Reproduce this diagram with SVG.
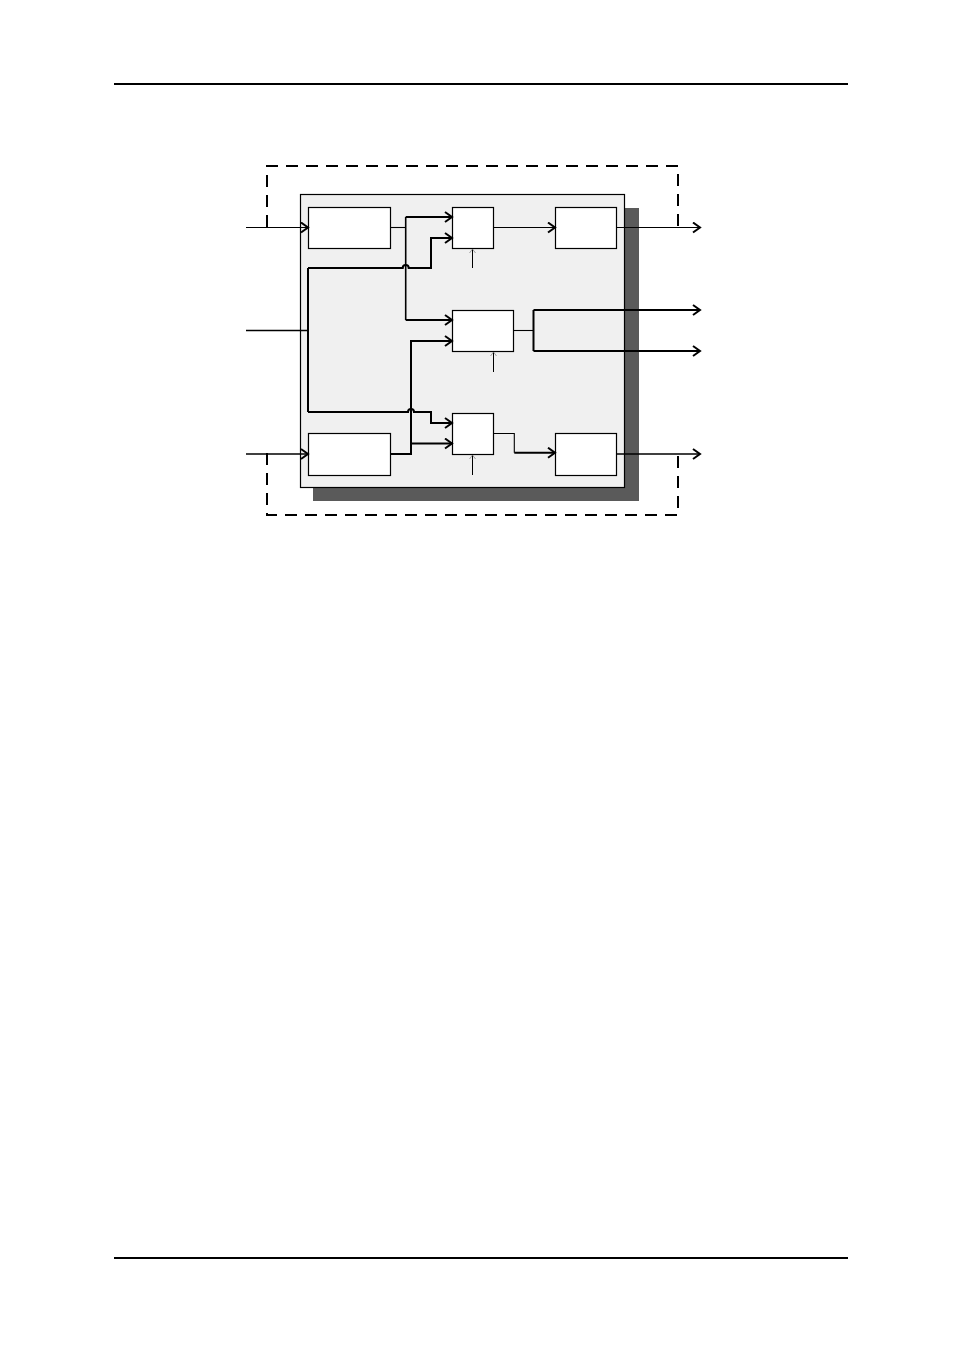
<svg xmlns="http://www.w3.org/2000/svg" width="954" height="1350" viewBox="0 0 954 1350">
<style>
.box{fill:#fff;stroke:#000;stroke-width:1.2}
.thin{fill:none;stroke:#000;stroke-width:1.1}
.med{fill:none;stroke:#000;stroke-width:1.6}
.thick{fill:none;stroke:#000;stroke-width:2}
.dash{fill:none;stroke:#000;stroke-width:2;stroke-dasharray:12 8}
.ctl{fill:none;stroke:#000;stroke-width:1}
</style>
<defs>
<marker id="arr" markerUnits="userSpaceOnUse" markerWidth="12" markerHeight="12" refX="8" refY="6" orient="auto">
<path d="M1,1 L8,6 L1,11" fill="none" stroke="#000" stroke-width="2"/>
</marker>
<marker id="sarr" markerUnits="userSpaceOnUse" markerWidth="8" markerHeight="8" refX="4" refY="4" orient="auto">
<path d="M0,1 L4,4 L0,7" fill="none" stroke="#888" stroke-width="0.8"/>
</marker>
</defs>
<rect width="954" height="1350" fill="#fff"/>
<line x1="114" y1="84" x2="848" y2="84" stroke="#000" stroke-width="2"/>
<line x1="114" y1="1258" x2="848" y2="1258" stroke="#000" stroke-width="2"/>

<g id="loop-top"><path class="dash" d="M267,227 V166 H678 V227"/></g>
<g id="loop-bottom"><path class="dash" d="M267,453 V515 H678 V453"/></g>

<g id="frame">
<rect x="313" y="208" width="326" height="293" fill="#5a5a5a"/>
<rect x="300.5" y="194.5" width="324" height="293" fill="#f0f0f0" stroke="#000" stroke-width="1.2"/>
</g>

<g id="node-a"><rect class="box" x="308.5" y="207.5" width="82" height="41"/></g>
<g id="node-b"><rect class="box" x="308.5" y="433.5" width="82" height="42"/></g>
<g id="node-c"><rect class="box" x="452.5" y="207.5" width="41" height="41"/></g>
<g id="node-d"><rect class="box" x="452.5" y="310.5" width="61" height="41"/></g>
<g id="node-e"><rect class="box" x="452.5" y="413.5" width="41" height="41"/></g>
<g id="node-f"><rect class="box" x="555.5" y="207.5" width="61" height="41"/></g>
<g id="node-g"><rect class="box" x="555.5" y="433.5" width="61" height="42"/></g>

<g id="connectors">
<path class="thin" d="M246,227.5 H308" marker-end="url(#arr)"/>
<path class="med" d="M246,330.5 H308"/>
<path class="med" d="M246,454 H308" marker-end="url(#arr)"/>

<path class="thick" d="M308,268 V412"/>
<path class="thick" d="M308,268 H402.7 A3,3 0 0 1 408.7,268 H431 V238 H452" marker-end="url(#arr)"/>
<path class="thick" d="M308,412 H408 A3,3 0 0 1 414,412 H431 V423 H452" marker-end="url(#arr)"/>

<path class="thin" d="M390.5,227.5 H405.7"/>
<path class="med" d="M405.7,217 V320"/>
<path class="thick" d="M405.7,217 H452" marker-end="url(#arr)"/>
<path class="thick" d="M405.7,320 H452" marker-end="url(#arr)"/>

<path class="thick" d="M390.5,454 H411 V341 H452" marker-end="url(#arr)"/>
<path class="thick" d="M411,443.5 H452" marker-end="url(#arr)"/>

<path class="thin" d="M493.5,227.5 H555" marker-end="url(#arr)"/>
<path class="thin" d="M616.5,227.5 H700" marker-end="url(#arr)"/>

<path class="thin" d="M513.5,330.5 H533.5"/>
<path class="thick" d="M533.5,310 V351"/>
<path class="thick" d="M533.5,310 H700" marker-end="url(#arr)"/>
<path class="thick" d="M533.5,351 H700" marker-end="url(#arr)"/>

<path class="thin" d="M493.5,433.5 H514.3 V452.7"/>
<path class="thick" d="M514.3,452.7 H555" marker-end="url(#arr)"/>
<path class="med" d="M616.5,454 H700" marker-end="url(#arr)"/>

<path class="ctl" d="M472.5,268 V249" marker-end="url(#sarr)"/>
<path class="ctl" d="M493.5,372 V352" marker-end="url(#sarr)"/>
<path class="ctl" d="M472.5,475 V455" marker-end="url(#sarr)"/>
</g>
</svg>
